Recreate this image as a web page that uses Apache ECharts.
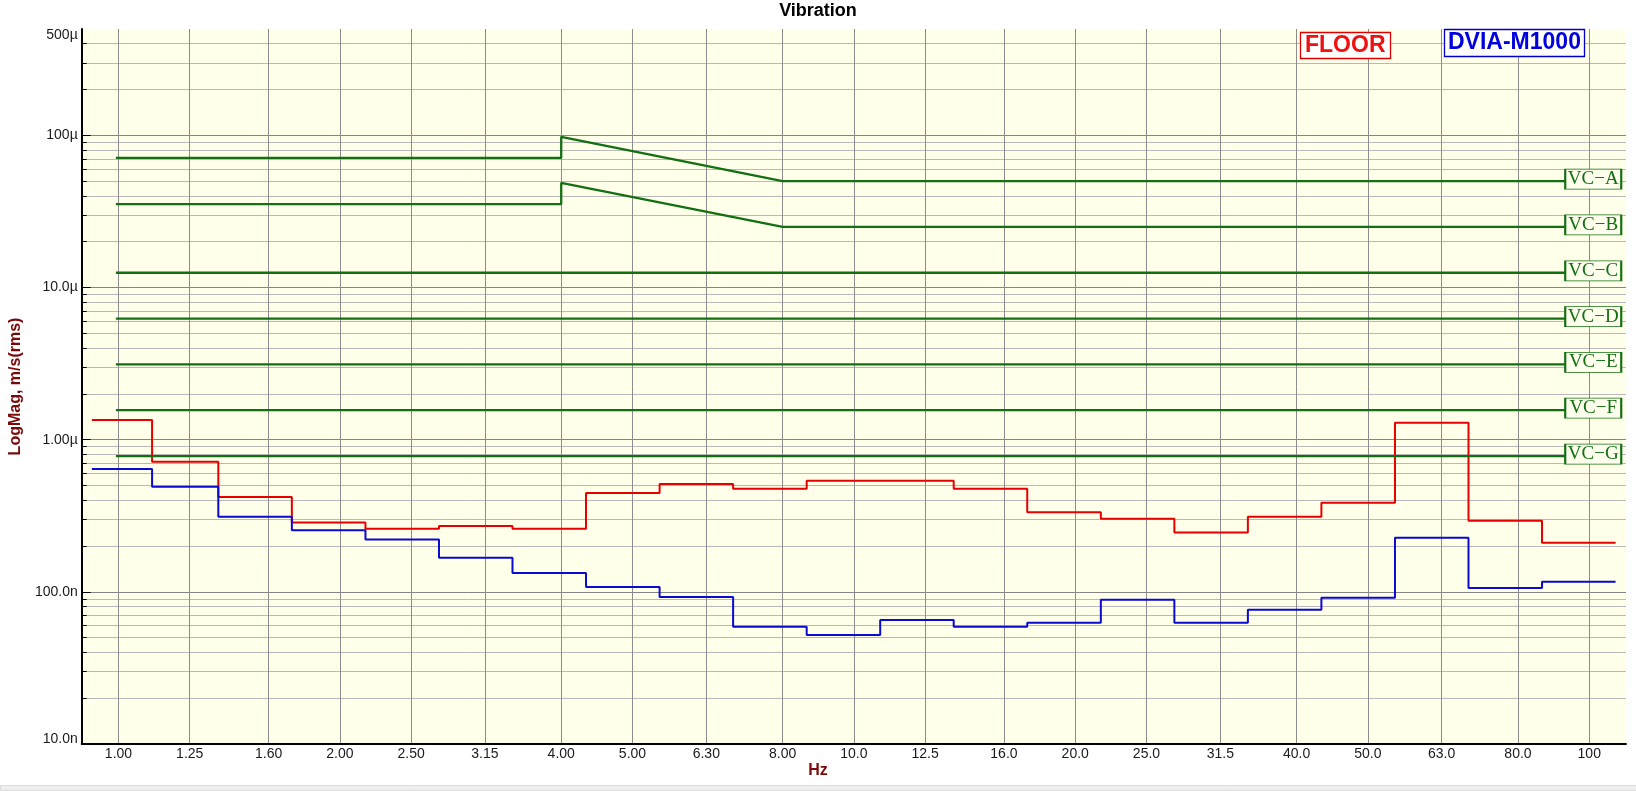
<!DOCTYPE html>
<html><head><meta charset="utf-8">
<script src="https://cdn.jsdelivr.net/npm/echarts@6/dist/echarts.min.js"></script>
<style>html,body{margin:0;padding:0;background:#fff}#c{width:1636px;height:791px}</style>
</head><body><div id="c"></div>
<script>
// ---- data ----
const freqTicks  = [1,1.25,1.6,2,2.5,3.15,4,5,6.3,8,10,12.5,16,20,25,31.5,40,50,63,80,100];
const freqLabels = ['1.00','1.25','1.60','2.00','2.50','3.15','4.00','5.00','6.30','8.00','10.0','12.5','16.0','20.0','25.0','31.5','40.0','50.0','63.0','80.0','100'];
const magTicks  = [1e-8,1e-7,1e-6,1e-5,1e-4,5e-4];
const magLabels = ['10.0n','100.0n','1.00µ','10.0µ','100µ','500µ'];

// 1/3-octave band edges (Hz) as drawn
const bandEdgesHz = [0.92,1.111,1.367,1.721,2.167,2.728,3.434,4.323,5.443,6.852,8.627,10.86,13.67,17.21,21.67,27.28,34.34,43.23,54.43,68.52,86.26,108.6];
// m/s rms per band
const floorVel = [1.345e-6,0.716e-6,0.42e-6,0.286e-6,0.26e-6,0.271e-6,0.26e-6,0.446e-6,0.511e-6,0.476e-6,0.537e-6,0.537e-6,0.476e-6,0.334e-6,0.302e-6,0.245e-6,0.312e-6,0.385e-6,1.29e-6,0.293e-6,0.21e-6];
const dviaVel  = [0.641e-6,0.491e-6,0.312e-6,0.2535e-6,0.221e-6,0.1675e-6,0.133e-6,0.1076e-6,0.0924e-6,0.059e-6,0.052e-6,0.0653e-6,0.059e-6,0.0627e-6,0.0887e-6,0.0627e-6,0.0763e-6,0.0914e-6,0.227e-6,0.106e-6,0.1165e-6];

// vibration criteria curves
const vcNames = ['VC−A','VC−B','VC−C','VC−D','VC−E','VC−F','VC−G'];
const vcFreqs = [
  [0.992,4,4,8,100],
  [0.992,4,4,8,100],
  [0.992,100],[0.992,100],[0.992,100],[0.992,100],[0.992,100]
];
const vcVels = [
  [71.1e-6,71.1e-6,97.8e-6,50e-6,50e-6],
  [35.3e-6,35.3e-6,48.7e-6,25e-6,25e-6],
  [12.5e-6,12.5e-6],
  [6.25e-6,6.25e-6],
  [3.125e-6,3.125e-6],
  [1.5625e-6,1.5625e-6],
  [0.78e-6,0.78e-6]
];

// ---- build ----
const L = Math.log10;
const FONT = 'Liberation Sans, Arial, sans-serif';
const RED = '#e60000', BLUE = '#0a0ad0', GREEN = '#127012';

function bandPoints(vals){
  const pts = vals.map((v,i)=>[L(bandEdgesHz[i]), L(v)]);
  pts.push([L(bandEdgesHz[vals.length]), L(vals[vals.length-1])]);
  return pts;
}
function findIdx(arr, v){
  for (let i=0;i<arr.length;i++) if (Math.abs(L(arr[i])-v) < 1e-6) return i;
  return -1;
}
// grid values: 1..9 x each decade inside range
const minorVals = [];
for (let e=-8;e<=-4;e++) for (let m=1;m<=9;m++){ const v=m*Math.pow(10,e); if (v<5e-4*0.999) minorVals.push(L(v)); }
const decadeVals = [-8,-7,-6,-5,-4];

const series = [
  {name:'FLOOR', type:'line', step:'end', data:bandPoints(floorVel), showSymbol:false, symbol:'none',
   lineStyle:{color:RED,width:2}, z:3},
  {name:'DVIA-M1000', type:'line', step:'end', data:bandPoints(dviaVel), showSymbol:false, symbol:'none',
   lineStyle:{color:BLUE,width:2}, z:3}
];
vcNames.forEach((nm,k)=>{
  const f = vcFreqs[k], v = vcVels[k];
  series.push({
    name:nm, type:'line', data:f.map((x,i)=>[L(x), L(v[i])]), symbol:'none', showSymbol:false,
    lineStyle:{color:GREEN,width:2.3}, z:4,
    markPoint:{
      silent:true, animation:false, z:6,
      data:[{coord:[L(f[f.length-1]), L(v[v.length-1])], symbol:'rect', symbolSize:[56,20], symbolOffset:[4,-2],
        itemStyle:{color:'#ffffee', borderColor:GREEN, borderWidth:1.3},
        label:{show:true, position:'inside', formatter:nm, color:GREEN, fontFamily:'Liberation Serif, Times New Roman, serif', fontSize:19}}]
    }
  });
});

const chart = echarts.init(document.getElementById('c'), null, {renderer:'canvas'});
chart.setOption({
  animation:false,
  backgroundColor:'#ffffff',
  title:[
    {text:'Vibration', left:'center', top:2, padding:0, textStyle:{fontFamily:FONT, fontSize:18, fontWeight:'bold', color:'#000'}},
    {text:'Hz', left:'center', top:763, padding:0, textStyle:{fontFamily:FONT, fontSize:16, fontWeight:'bold', color:'#7a0a0a'}},
    {text:'FLOOR', left:1300, top:32, padding:[1,5,1,5], backgroundColor:'#ffffff', borderColor:'#e00000', borderWidth:1.3,
     textStyle:{fontFamily:FONT, fontSize:23, lineHeight:25, fontWeight:'bold', color:'#ee1111'}},
    {text:'DVIA-M1000', left:1444, top:29, padding:[1,4,1,4], backgroundColor:'#ffffff', borderColor:'#0000cc', borderWidth:1.3,
     textStyle:{fontFamily:FONT, fontSize:23, lineHeight:26, fontWeight:'bold', color:'#0000dd'}}
  ],
  grid:{left:72, right:10, top:29, bottom:47, show:true, backgroundColor:'#ffffea', borderWidth:0},
  xAxis:{
    type:'value', min:L(0.8913), max:L(112.2),
    axisLine:{show:true, onZero:false, lineStyle:{color:'#000', width:2}},
    axisTick:{show:false, customValues:freqTicks.map(L)},
    axisLabel:{customValues:freqTicks.map(L), margin:3, fontFamily:FONT, fontSize:14, color:'#1a1a1a',
      formatter:v=>{const i=findIdx(freqTicks,v); return i>=0?freqLabels[i]:'';}},
    splitLine:{show:true, lineStyle:{color:'#8c8c8c', width:1}}
  },
  yAxis:[
    {type:'value', min:-8, max:L(5e-4),
     axisLine:{show:true, onZero:false, lineStyle:{color:'#000', width:2}},
     axisTick:{show:true, inside:true, length:5, customValues:minorVals, lineStyle:{color:'#000', width:1}},
     axisLabel:{customValues:magTicks.map(L), margin:4,
       formatter:v=>{const i=findIdx(magTicks,v); if(i<0) return ''; if(i===0) return '{b|'+magLabels[i]+'}'; if(i===magTicks.length-1) return '{t|'+magLabels[i]+'}'; return '{n|'+magLabels[i]+'}';},
       rich:{
         n:{fontFamily:FONT, fontSize:14, color:'#1a1a1a'},
         b:{fontFamily:FONT, fontSize:14, color:'#1a1a1a', padding:[0,0,9,0]},
         t:{fontFamily:FONT, fontSize:14, color:'#1a1a1a', padding:[12,0,0,0]}
       }},
     splitLine:{show:true, lineStyle:{color:'#b9b9b9', width:1}},
     name:'LogMag, m/s(rms)', nameLocation:'middle', nameRotate:90, nameGap:50,
     nameTextStyle:{fontFamily:FONT, fontSize:16, fontWeight:'bold', color:'#7a0a0a'}
    },
    {type:'value', min:-8, max:L(5e-4), position:'left', offset:0,
     axisLine:{show:false, onZero:false},
     axisTick:{show:true, inside:true, length:9, customValues:decadeVals, lineStyle:{color:'#000', width:1}},
     axisLabel:{show:false},
     splitLine:{show:true, lineStyle:{color:'#858585', width:1}}
    }
  ],
  graphic:[
    {type:'rect', left:0, bottom:0, shape:{width:1636, height:5}, style:{fill:'#eeeeee', stroke:'#dcdcdc', lineWidth:1}, silent:true}
  ],
  series:series
});
</script>
</body></html>
